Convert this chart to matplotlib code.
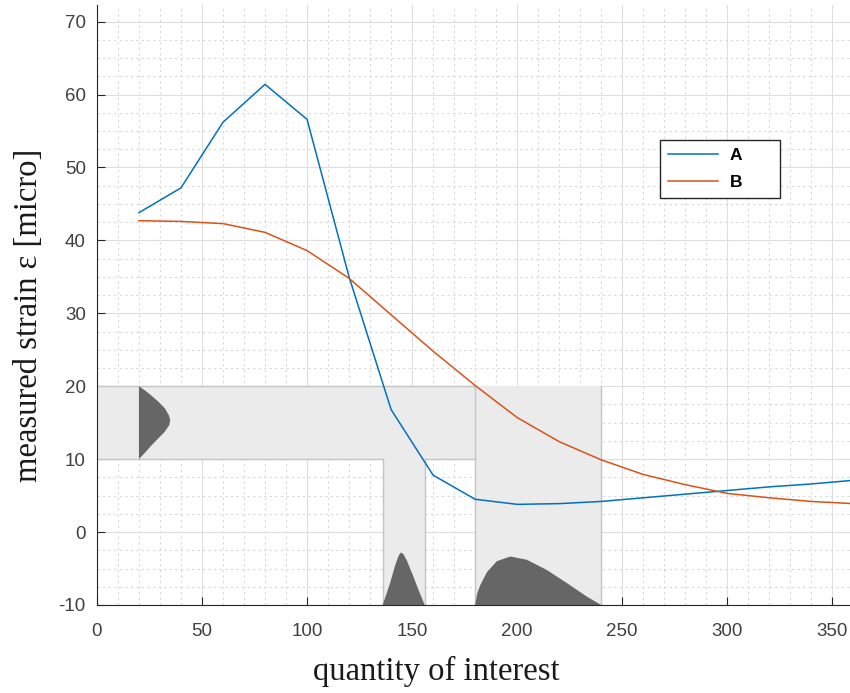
import numpy as np
import matplotlib.pyplot as plt
from matplotlib.ticker import MultipleLocator

plt.rcParams['axes.unicode_minus'] = False

# series
x = [20, 40, 60, 80, 100, 120, 140, 160, 180, 200, 220, 240, 260, 280, 300, 320, 340, 360]
a = [43.8, 47.2, 56.2, 61.4, 56.6, 35.0, 16.8, 7.8, 4.5, 3.8, 3.9, 4.2, 4.7, 5.2, 5.7, 6.2, 6.6, 7.1]
b = [42.7, 42.6, 42.3, 41.1, 38.6, 34.8, 29.8, 24.8, 20.1, 15.7, 12.4, 9.9, 7.9, 6.5, 5.3, 4.7, 4.2, 3.9]

# shaded ranges
band_x = (0, 180)
band_y = (10, 20)
strip1_x = (136, 156)
strip2_x = (180, 240)

# dark distribution shapes
pdf1_y = [20, 19.4, 18.84, 17.9, 16.98, 16.05, 15.35, 14.65, 13.72, 12.79, 11.86, 10.93, 10]
pdf1_dx = [0, 3.0, 5.4, 9.2, 12.3, 14.2, 14.9, 14.4, 12.2, 9.0, 5.9, 3.0, 0]
pdf1_x0 = 20
pdf2_x = [136, 138, 139.5, 141.9, 143.5, 144.6, 145.8, 147.5, 150.6, 153.0, 156]
pdf2_y = [-10, -8.3, -7.0, -4.6, -3.3, -2.8, -3.0, -3.9, -6.1, -7.9, -10]
pdf3_x = [180, 181, 182.4, 185.6, 190.3, 196.7, 204.6, 214.1, 223.7, 233.2, 240]
pdf3_y = [-10, -8.4, -7.3, -5.5, -4.0, -3.35, -3.8, -5.2, -7.0, -8.86, -10]

fig = plt.figure(figsize=(8.5, 6.93), dpi=100)
ax = fig.add_axes([0.114, 0.127, 0.89, 0.866])

light = '#ebebeb'
edge = '#c4c4c4'
ax.fill([band_x[0], band_x[1], band_x[1], band_x[0]], [band_y[0], band_y[0], band_y[1], band_y[1]],
        color=light, zorder=1, lw=0)
ax.fill([strip1_x[0], strip1_x[1], strip1_x[1], strip1_x[0]], [-10, -10, band_y[0], band_y[0]],
        color=light, zorder=1, lw=0)
ax.fill([strip2_x[0], strip2_x[1], strip2_x[1], strip2_x[0]], [-10, -10, band_y[1], band_y[1]],
        color=light, zorder=1, lw=0)
# edges
ax.plot([band_x[0], band_x[1]], [band_y[1], band_y[1]], color=edge, lw=1, zorder=1.5)
ax.plot([band_x[0], strip1_x[0]], [band_y[0], band_y[0]], color=edge, lw=1, zorder=1.5)
ax.plot([strip1_x[1], strip2_x[0]], [band_y[0], band_y[0]], color=edge, lw=1, zorder=1.5)
for xv, ytop in [(strip1_x[0], band_y[0]), (strip1_x[1], band_y[0]),
                 (strip2_x[0], band_y[1]), (strip2_x[1], band_y[1])]:
    ax.plot([xv, xv], [-10, ytop], color=edge, lw=1, zorder=1.5)

dark = '#666666'
ax.fill([pdf1_x0 + d for d in pdf1_dx], pdf1_y, color=dark, lw=0, zorder=2)
ax.fill(pdf2_x, pdf2_y, color=dark, lw=0, zorder=2)
ax.fill(pdf3_x, pdf3_y, color=dark, lw=0, zorder=2)

ax.plot(x, a, color='#0072BD', lw=1.1, label='A', zorder=3)
ax.plot(x, b, color='#D95319', lw=1.1, label='B', zorder=3)

ax.set_xlim(0, 360)
ax.set_ylim(-10, 72.3)
ax.xaxis.set_major_locator(MultipleLocator(50))
ax.xaxis.set_minor_locator(MultipleLocator(10))
ax.yaxis.set_major_locator(MultipleLocator(10))
ax.yaxis.set_minor_locator(MultipleLocator(2.5))
ax.set_yticks(range(-10, 71, 10))
ax.grid(True, which='major', color='#dedede', lw=0.8, zorder=0)
ax.grid(True, which='minor', color='#d8d8d8', lw=0.8, ls=(0, (2, 3)), zorder=0)
ax.set_axisbelow(True)

for s in ['top', 'right']:
    ax.spines[s].set_visible(False)
for s in ['left', 'bottom']:
    ax.spines[s].set_color('#262626')
    ax.spines[s].set_zorder(4)
ax.tick_params(which='major', direction='in', length=5.5, color='#262626', labelsize=13.5,
               labelcolor='#404040')
ax.tick_params(axis='x', pad=13)
ax.tick_params(axis='y', pad=8)
ax.tick_params(which='minor', length=0)
for lab in ax.get_xticklabels() + ax.get_yticklabels():
    lab.set_family('Liberation Sans')

ax.set_xlabel('quantity of interest', family='Liberation Serif', fontsize=23.5, color='#1a1a1a')
ax.xaxis.set_label_coords(0.449, -0.085)
ax.set_ylabel('measured strain ε [micro]', family='Liberation Serif', fontsize=23.5, color='#1a1a1a')
ax.yaxis.set_label_coords(-0.07, 0.483)

leg = ax.legend(loc='upper left', bbox_to_anchor=(0.744, 0.678, 0.159, 0.097), mode='expand',
                borderaxespad=0, fancybox=False, edgecolor='#262626', framealpha=1,
                prop={'family': 'Liberation Sans', 'weight': 'bold', 'size': 12.5},
                handlelength=2.9, handletextpad=0.7, borderpad=0.45, labelspacing=0.7)
leg.get_frame().set_linewidth(1.0)

fig.savefig('out.png', dpi=100)
